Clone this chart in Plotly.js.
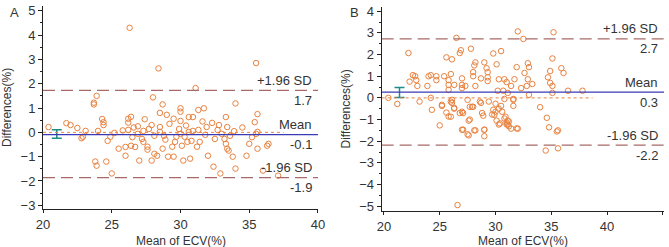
<!DOCTYPE html>
<html><head><meta charset="utf-8">
<script src="https://cdn.plot.ly/plotly-3.0.1.min.js"></script>
<style>html,body{margin:0;padding:0;background:#fff}#c{width:669px;height:247px}</style>
</head><body><div id="c"></div>
<script>
// Panel A data (mean of ECV %, difference %)
const xA = [26.3,28.4,35.5,31.1,23.9,23.7,23.7,28.0,28.7,30.0,30.0,28.5,29.0,29.5,30.0,30.6,30.9,31.3,31.7,34.0,33.3,35.6,35.4,32.3,27.4,26.4,26.2,26.2,24.3,24.4,21.7,20.4,22.0,22.5,23.1,22.9,22.8,24.0,24.7,24.9,25.2,25.5,26.0,26.0,26.2,26.6,26.4,26.7,26.9,26.9,27.3,27.2,27.3,27.6,27.6,27.0,27.9,27.7,28.1,28.3,28.1,28.5,28.5,28.7,28.8,29.1,29.4,29.5,29.6,29.7,29.9,30.0,30.1,30.2,30.3,30.5,30.6,30.7,30.8,30.9,31.2,31.4,31.3,31.9,32.0,32.4,32.5,32.7,32.9,33.0,33.2,33.3,33.4,33.4,33.5,33.6,33.8,34.0,34.8,35.0,35.5,35.6,35.6,36.0,36.4,36.3,37.1,23.8,23.9,24.6,25.0,24.4,25.8,27.9,29.2,31.6,32.8,34.5,35.2,28.9,26.5,31.8,30.4,33.9];
const yA = [4.3,2.63,2.85,1.82,1.5,1.22,1.15,1.44,1.15,0.99,0.85,0.8,0.72,0.56,0.47,0.63,0.63,0.92,0.99,1.19,0.63,0.75,0.42,0.39,0.54,0.64,0.56,0.4,0.55,0.42,0.38,0.22,0.3,0.18,0.06,-0.18,-0.24,0.06,-0.35,-0.18,-0.02,-0.67,-0.6,-0.96,0.1,0.2,-0.55,-0.6,-0.06,0.25,0.06,-0.27,-0.39,-0.59,-0.71,-1.16,-1.16,0.14,-0.88,-0.96,-0.14,0.22,0.02,-0.67,-0.14,-1.0,-0.59,-1.0,-0.39,-0.18,0.14,-0.06,-0.55,-1.16,-0.18,-0.39,0.02,-1.08,-0.35,0.06,-0.59,-0.39,0.1,0.22,-0.96,-1.41,-0.27,0.1,-1.69,-0.06,-0.27,-0.47,0.22,-0.67,-0.75,-0.14,-1.0,-1.49,-0.96,-0.47,-0.06,-0.67,0.02,-1.57,-0.47,-0.55,-1.78,-1.2,-1.37,-1.2,-1.69,0.3,0.08,0.3,0.35,0.45,0.3,0.2,-0.2,-0.3,-0.2,-0.1,0.28,0.05];
// Panel B data
const xB = [20.4,21.2,22.2,22.3,22.6,22.8,22.9,23.0,23.2,23.9,24.0,24.2,24.2,24.3,24.7,24.7,25.2,25.4,25.6,25.6,25.8,25.8,25.8,26.0,26.0,26.1,26.1,26.1,26.3,26.3,26.5,26.8,26.9,27.0,27.0,27.0,27.1,27.3,27.5,27.7,27.8,27.9,28.0,28.0,28.1,28.2,28.2,28.7,28.7,28.8,28.9,29.0,29.2,29.3,29.3,29.3,29.4,29.8,29.8,29.9,30.1,30.2,30.3,30.5,30.5,30.6,30.7,30.8,30.9,31.0,31.1,31.1,31.4,31.6,31.7,31.6,31.9,32.0,32.3,32.5,32.6,32.8,32.9,32.9,33.0,33.0,33.3,34.0,34.6,34.7,34.9,34.9,35.1,35.1,35.1,35.2,35.9,36.1,36.5,37.8,25.0,27.1,27.6,28.1,29.0,29.0,30.3,31.0,31.2,31.4,32.0,34.8,35.6,34.5,35.6,26.6,25.2,25.8,26.0,26.3,26.8,27.0,27.0,27.6,27.5,27.7,28.0,28.2,28.6,29.0,29.7,30.0,30.0,30.1,30.3,30.4,30.8,31.0,31.1,31.2,30.8,31.6,31.9,35.5];
const yB = [0.0,-0.28,2.07,0.75,1.05,1.0,0.82,0.55,-0.17,0.55,1.0,1.05,0.0,-0.55,1.0,0.82,-0.37,1.0,1.87,-0.68,0.82,0.6,0.37,1.1,-0.87,1.78,-0.09,-0.23,0.6,-0.46,2.77,2.07,2.2,0.9,0.6,0.45,-0.7,0.55,-0.09,-1.0,2.27,-0.41,1.19,1.0,1.5,1.64,0.55,0.9,-0.23,-0.7,-0.82,1.64,1.37,1.19,0.95,0.78,-0.17,2.05,-0.55,-0.78,1.55,0.33,0.86,2.16,-0.37,-0.64,0.33,0.86,-0.87,0.73,0.23,-1.05,0.55,-0.37,0.86,-0.05,1.42,3.07,0.45,2.72,1.15,0.55,0.86,1.6,1.42,0.14,0.64,-0.43,-0.92,0.95,0.69,1.24,1.82,0.55,0.23,3.03,1.37,1.15,0.33,0.33,-1.27,-1.47,-1.73,-1.5,-1.47,-1.77,-1.23,-1.23,-1.31,-1.42,-1.42,-1.36,-1.5,-2.43,-2.33,-4.95,-0.32,-0.86,-0.17,-0.5,-0.7,-0.64,-1.47,-1.05,-1.68,-0.41,-0.41,-1.5,-0.17,-1.47,-0.77,-0.64,-0.27,-1.05,-0.5,-1.18,-0.95,-1.14,-1.23,-1.09,-0.05,-0.09,-1.41,-1.55];
// Agreement statistics: [upper limit, mean, lower limit]
const statsA = [1.73, -0.09, -1.86];
const statsB = [2.72, 0.27, -2.18];
const labelsA = ['1.7', '-0.1', '-1.9'];
const labelsB = ['2.7', '0.3', '-2.2'];
// Mean CI error bars: [x, mean, lower, upper]
const ciA = [21.0, -0.07, -0.24, 0.11];
const ciB = [21.4, 0.25, 0.02, 0.48];
const zeroEndA = 37.5, zeroEndB = 38.7;
const xRangeA = [20, 40], xRangeB = [19.8, 45.1];
const yRangeA = [-3.15, 5.2], yRangeB = [-5.22, 4.2];
const xTitle = 'Mean of ECV(%)', yTitle = 'Differences(%)';

const ORANGE = '#e8823f', BLUE = '#3a3ab8', DASH = '#a86a66', TEAL = '#1f8c8c';
const FONT = {family:'Liberation Sans, Arial, sans-serif', size:12, color:'#333'};
const TFONT = {family:'Liberation Sans, Arial, sans-serif', size:13, color:'#333'};

function pts(x, y, xa, ya){
  return {x:x, y:y, xaxis:xa, yaxis:ya, type:'scatter', mode:'markers',
    marker:{symbol:'circle-open', size:5.5, color:ORANGE, line:{width:1, color:ORANGE}},
    hoverinfo:'skip', showlegend:false};
}
function ci(c, xa, ya){
  return {x:[c[0]], y:[c[1]], xaxis:xa, yaxis:ya, type:'scatter', mode:'markers',
    marker:{size:1, color:'rgba(0,0,0,0)'},
    error_y:{type:'data', symmetric:false, array:[c[3]-c[1]], arrayminus:[c[1]-c[2]], color:TEAL, thickness:1.5, width:5},
    hoverinfo:'skip', showlegend:false};
}
const data = [pts(xA,yA,'x','y'), pts(xB,yB,'x2','y2'), ci(ciA,'x','y'), ci(ciB,'x2','y2')];

function lines(stats, xr, xref, yref, zeroEnd){
  return [
    {type:'line', xref:xref, yref:yref, x0:xr[0], x1:zeroEnd, y0:0, y1:0, line:{color:ORANGE, width:1, dash:'dot'}},
    {type:'line', xref:xref, yref:yref, x0:xr[0], x1:xr[1], y0:stats[0], y1:stats[0], line:{color:DASH, width:1.3, dash:'12px,6px'}},
    {type:'line', xref:xref, yref:yref, x0:xr[0], x1:xr[1], y0:stats[1], y1:stats[1], line:{color:BLUE, width:1.3}},
    {type:'line', xref:xref, yref:yref, x0:xr[0], x1:xr[1], y0:stats[2], y1:stats[2], line:{color:DASH, width:1.3, dash:'12px,6px'}}
  ];
}
function notes(stats, labels, xr, xref, yref){
  const tops = ['+1.96 SD', 'Mean', '-1.96 SD'];
  const out = [];
  for (let i=0;i<3;i++){
    out.push({x:xr[1], y:stats[i], xref:xref, yref:yref, text:tops[i], showarrow:false, xanchor:'right', yanchor:'middle', yshift:10, xshift:-4, font:TFONT});
    out.push({x:xr[1], y:stats[i], xref:xref, yref:yref, text:labels[i], showarrow:false, xanchor:'right', yanchor:'middle', yshift:-10, xshift:-4, font:TFONT});
  }
  return out;
}

const xax = (dom, rng) => ({domain:dom, range:rng, showgrid:false, zeroline:false, showline:true, linecolor:'#222', linewidth:1,
  ticks:'outside', ticklen:3, tickcolor:'#222', dtick:5, tick0:0, tickfont:TFONT});
const yax = (dom, rng, anchor) => ({domain:dom, range:rng, anchor:anchor, showgrid:false, zeroline:false, showline:true, linecolor:'#222', linewidth:1,
  ticks:'outside', ticklen:4, tickcolor:'#222', dtick:1, tick0:0, tickfont:TFONT,
  minor:{ticks:'outside', ticklen:2, dtick:0.5, tickcolor:'#222'},
  title:{text:yTitle, font:FONT, standoff:6}});

const layout = {
  width:669, height:247, margin:{l:0, r:0, t:0, b:0}, paper_bgcolor:'#fff', plot_bgcolor:'#fff',
  font:FONT, showlegend:false,
  xaxis: Object.assign(xax([0.0643,0.4753], xRangeA), {anchor:'y'}),
  yaxis: yax([0.154,0.976], yRangeA, 'x'),
  xaxis2: Object.assign(xax([0.5705,0.9925], xRangeB), {anchor:'y2'}),
  yaxis2: yax([0.146,0.972], yRangeB, 'x2'),
  shapes: lines(statsA, xRangeA, 'x', 'y', zeroEndA).concat(lines(statsB, xRangeB, 'x2', 'y2', zeroEndB)),
  annotations: notes(statsA, labelsA, xRangeA, 'x', 'y').concat(notes(statsB, labelsB, xRangeB, 'x2', 'y2')).concat([
    {x:181/669, y:1-241/247, xref:'paper', yref:'paper', text:xTitle, showarrow:false, xanchor:'center', yanchor:'middle', font:FONT},
    {x:523/669, y:1-241/247, xref:'paper', yref:'paper', text:xTitle, showarrow:false, xanchor:'center', yanchor:'middle', font:FONT},
    {x:8/669, y:1-12/247, xref:'paper', yref:'paper', text:'A', showarrow:false, xanchor:'left', yanchor:'middle', font:TFONT},
    {x:348/669, y:1-12/247, xref:'paper', yref:'paper', text:'B', showarrow:false, xanchor:'left', yanchor:'middle', font:TFONT}
  ])
};
Plotly.newPlot('c', data, layout, {staticPlot:true, displayModeBar:false});
</script></body></html>
